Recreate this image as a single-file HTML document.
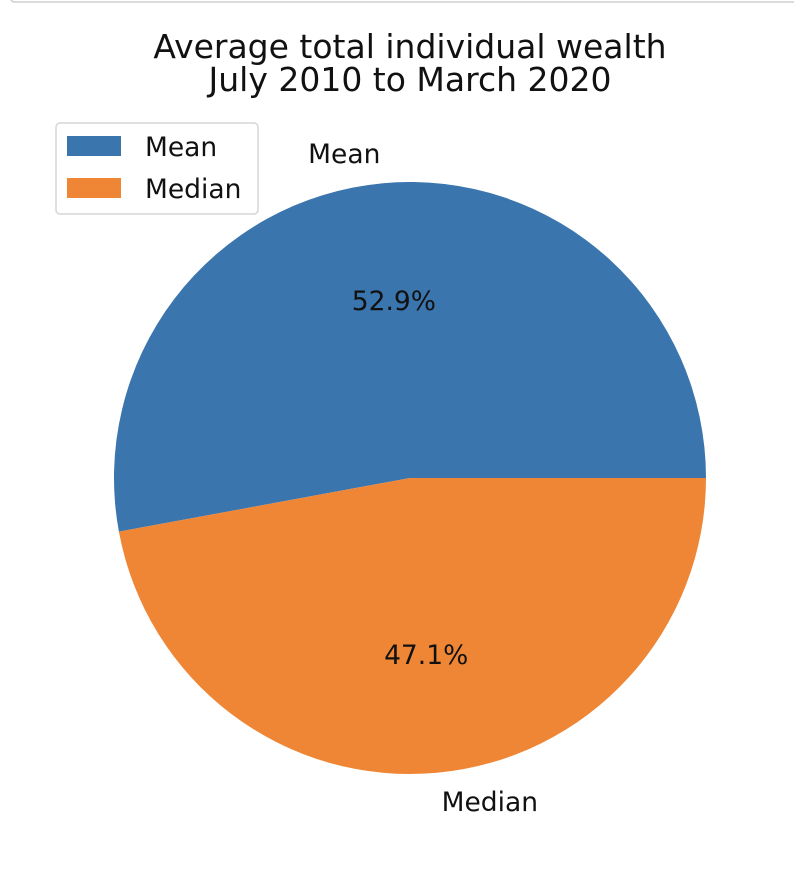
<!DOCTYPE html>
<html><head><meta charset="utf-8"><style>
body{margin:0;background:#fff;width:794px;height:866px;overflow:hidden}
svg{font-family:"DejaVu Sans","Liberation Sans",sans-serif}
</style></head><body>
<svg width="794" height="866">
<rect x="10" y="-10" width="800" height="12" rx="5" fill="none" stroke="#d0d0d0" stroke-width="1.5"/>
<text x="410" y="58" font-size="33" text-anchor="middle" fill="#111">Average total individual wealth</text>
<text x="410" y="91" font-size="33" text-anchor="middle" fill="#111">July 2010 to March 2020</text>
<g id="pie"></g>
<g>
<rect x="56" y="123" width="202" height="91" rx="4" fill="#fff" fill-opacity="0.8" stroke="#d6d6d6" stroke-width="1.5"/>
<rect x="67" y="136" width="54" height="20" fill="#3a75ae"/>
<text x="145" y="156" font-size="26.5" fill="#111">Mean</text>
<rect x="67" y="178" width="54" height="20" fill="#ef8636"/>
<text x="145" y="198" font-size="26.5" fill="#111">Median</text>
</g>
</svg>
<script>
const categories=["Mean","Median"];
const values=[52.9,47.1];
const colors=["#3a75ae","#ef8636"];
const cx=410,cy=478,r=296;
const g=document.getElementById('pie');
const ns="http://www.w3.org/2000/svg";
const total=values.reduce((a,b)=>a+b,0);
let a0=0;
function pt(a,rr){return [cx+rr*Math.cos(a),cy-rr*Math.sin(a)];}
values.forEach((v,i)=>{
  const a1=a0+v/total*2*Math.PI;
  const p0=pt(a0,r),p1=pt(a1,r);
  const large=(a1-a0)>Math.PI?1:0;
  const p=document.createElementNS(ns,'path');
  p.setAttribute('d',`M${cx},${cy}L${p0[0]},${p0[1]}A${r},${r} 0 ${large} 0 ${p1[0]},${p1[1]}Z`);
  p.setAttribute('fill',colors[i]);
  
  
  g.appendChild(p);
  const mid=(a0+a1)/2;
  const lp=pt(mid,r*0.6);
  const t=document.createElementNS(ns,'text');
  t.setAttribute('x',lp[0]);t.setAttribute('y',lp[1]+9);
  t.setAttribute('font-size','26.5');t.setAttribute('text-anchor','middle');t.setAttribute('fill','#111');
  t.textContent=v.toFixed(1)+'%';
  
  
  g.appendChild(t);
  const op=pt(mid,r*1.1);
  const o=document.createElementNS(ns,'text');
  o.setAttribute('x',op[0]+(Math.cos(mid)>0.05?2:0));o.setAttribute('y',op[1]+9);
  o.setAttribute('font-size','26.5');o.setAttribute('fill','#111');
  o.setAttribute('text-anchor',Math.cos(mid)>0.05?'start':(Math.cos(mid)<-0.05?'end':'middle'));
  o.textContent=categories[i];
  
  
  g.appendChild(o);
  a0=a1;
});
</script>
</body></html>
